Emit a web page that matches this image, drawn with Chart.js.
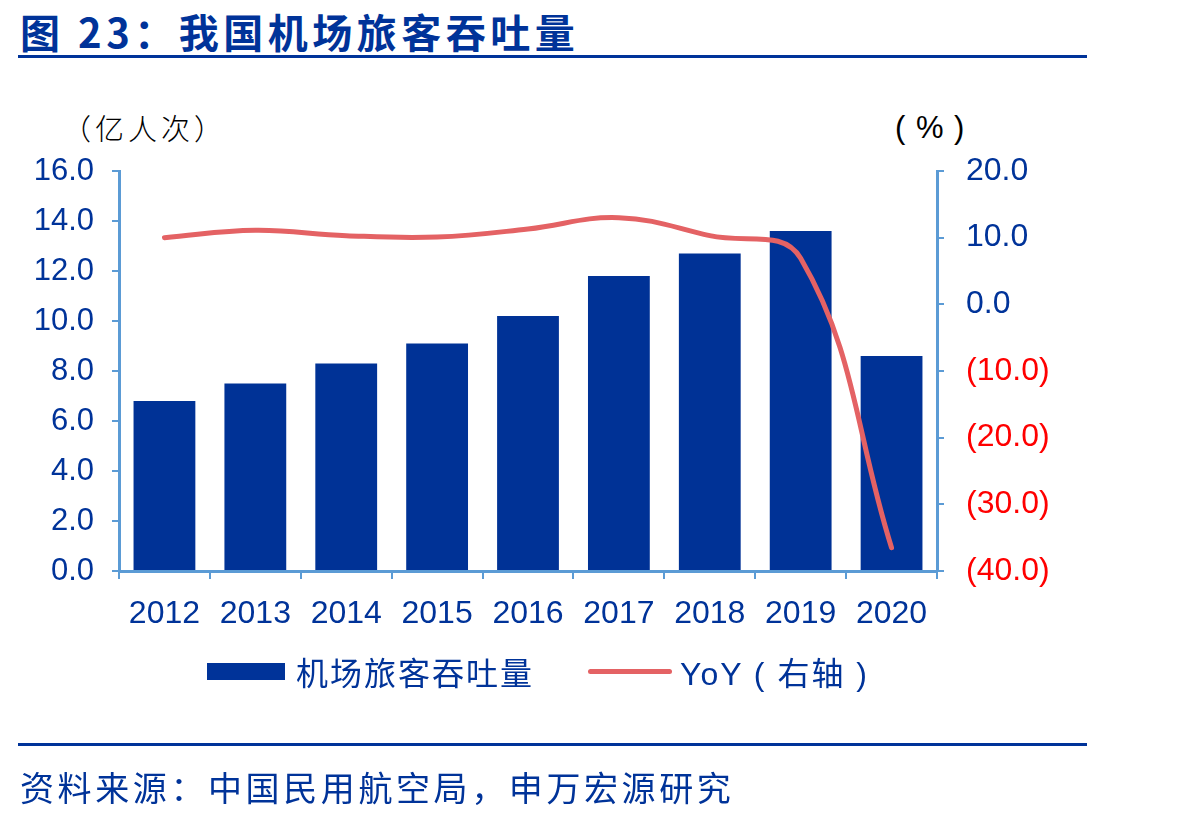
<!DOCTYPE html>
<html>
<head>
<meta charset="utf-8">
<script src="https://cdn.jsdelivr.net/npm/chart.js@4"></script>
<style>
  body { margin: 0; background: #fff; }
  #wrap { position: relative; width: 1182px; height: 819px; font-family: "Liberation Sans", Arial, "Noto Sans CJK SC", sans-serif; }
  #chart { position: absolute; left: 0; top: 0; }
  .title { position: absolute; left: 20px; top: 2px; font-family: "Noto Sans CJK SC", sans-serif; font-weight: bold; font-size: 40px; letter-spacing: 4.5px; color: #003399; }
  .rule { position: absolute; left: 18px; width: 1069px; height: 3px; background: #003399; }
  .unit { position: absolute; top: 106px; font-family: "Noto Sans CJK SC", sans-serif; font-size: 29px; letter-spacing: 4px; color: #000; font-weight: 300; }
  .legend { position: absolute; top: 648px; font-size: 32px; letter-spacing: 2px; color: #003399; font-family: "Liberation Sans", "Noto Sans CJK SC", sans-serif; }
  .source { position: absolute; left: 20px; top: 762px; font-size: 34px; letter-spacing: 3.6px; color: #003399; font-family: "Noto Sans CJK SC", sans-serif; }
</style>
</head>
<body>
<div id="wrap">
  <div class="title">图 23：我国机场旅客吞吐量</div>
  <div class="rule" style="top:55px"></div>
  <div class="unit" style="left:62px">（亿人次）</div>
  <div class="unit" style="left:895px;font-family:'Liberation Sans';font-weight:normal;font-size:31px;letter-spacing:1px;top:110px">( % )</div>
  <canvas id="chart" width="1182" height="819"></canvas>
  <div class="legend" style="left:207px;top:663px;width:78px;height:17px;background:#003399"></div>
  <div class="legend" style="left:296px">机场旅客吞吐量</div>
  <div class="legend" style="left:588px;top:669px;width:84px;height:5px;background:#E46264;border-radius:3px"></div>
  <div class="legend" style="left:680px">YoY ( 右轴 )</div>
  <div class="rule" style="top:743px"></div>
  <div class="source">资料来源：中国民用航空局，申万宏源研究</div>
</div>
<script>
var years = ["2012", "2013", "2014", "2015", "2016", "2017", "2018", "2019", "2020"];
var passengers = [6.8, 7.5, 8.3, 9.1, 10.2, 11.8, 12.7, 13.6, 8.6];
var yoy = [10.0, 11.1, 10.3, 10.1, 11.3, 13.0, 10.3, 6.9, -36.5];

var axisColor = "#5B9BD5";
var blue = "#003399";

function fmt(v) {
  if (v < 0) return "(" + Math.abs(v).toFixed(1) + ")";
  return v.toFixed(1);
}

new Chart(document.getElementById("chart"), {
  data: {
    labels: years,
    datasets: [
      {
        type: "line",
        label: "YoY（右轴）",
        data: yoy,
        yAxisID: "y1",
        borderColor: "#E46264",
        borderWidth: 5,
        pointRadius: 0,
        tension: 0.4,
        borderCapStyle: "round"
      },
      {
        type: "bar",
        label: "机场旅客吞吐量",
        data: passengers,
        yAxisID: "y",
        backgroundColor: "#003296",
        categoryPercentage: 0.68,
        barPercentage: 1.0
      }
    ]
  },
  options: {
    responsive: false,
    animation: false,
    layout: { padding: { left: 0, right: 0, top: 171, bottom: 188 } },
    plugins: { legend: { display: false }, tooltip: { enabled: false } },
    scales: {
      x: {
        offset: true,
        grid: { drawOnChartArea: false, color: axisColor, tickLength: 8, offset: true, lineWidth: 2 },
        border: { color: axisColor, width: 3 },
        ticks: { color: blue, font: { size: 32, family: "Liberation Sans" }, padding: 16 },
        afterFit: function(scale) { scale.height = 60; }
      },
      y: {
        position: "left",
        min: 0, max: 16,
        ticks: { stepSize: 2, color: blue, font: { size: 31, family: "Liberation Sans" }, padding: 18, callback: function(v) { return v.toFixed(1); } },
        grid: { drawOnChartArea: false, color: axisColor, tickLength: 7, lineWidth: 2 },
        border: { color: axisColor, width: 3 },
        afterFit: function(scale) { scale.width = 119; }
      },
      y1: {
        position: "right",
        min: -40, max: 20,
        ticks: {
          stepSize: 10,
          font: { size: 32, family: "Liberation Sans" },
          padding: 22,
          color: function(ctx) { return ctx.tick.value < 0 ? "#FF0000" : blue; },
          callback: function(v) { return fmt(v); }
        },
        grid: { drawOnChartArea: false, color: axisColor, tickLength: 7, lineWidth: 2 },
        border: { color: axisColor, width: 3 },
        afterFit: function(scale) { scale.width = 245; }
      }
    }
  }
});
</script>
</body>
</html>
